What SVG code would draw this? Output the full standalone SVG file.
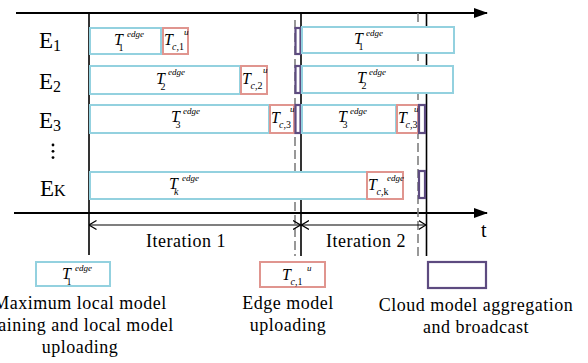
<svg xmlns="http://www.w3.org/2000/svg" width="588" height="363" viewBox="0 0 588 363">
<style>
.ax{stroke:#000;stroke-width:2;fill:none}
.vl{stroke:#000;stroke-width:1.6;fill:none}
.dl{stroke:#7f7f7f;stroke-width:1.6;stroke-dasharray:9 4;fill:none}
.cy{fill:#fff;stroke:#93d1df;stroke-width:2}
.rd{fill:#fff;stroke:#e0958f;stroke-width:2}
.pu{fill:#fff;stroke:#5d4b80;stroke-width:2.2}
.ia{stroke:#000;stroke-width:1.2;fill:none}
text{font-family:"Liberation Serif","Times New Roman",serif;fill:#000}
.lb{font-size:23px}
.lbs{font-size:16px}
.ti{font-style:italic;font-size:16px}
.sp{font-style:italic;font-size:9px}
.sb{font-style:normal;font-size:10px}
.sbi{font-style:italic;font-size:10px}
.tx{font-size:18px;letter-spacing:0.5px}
</style>
<defs>
<marker id="fa" markerWidth="14" markerHeight="10" refX="13" refY="5" orient="auto" markerUnits="userSpaceOnUse"><path d="M0,0 L14,5 L0,10 Z" fill="#000"/></marker>
<marker id="oa" markerWidth="8" markerHeight="10" refX="7.5" refY="5" orient="auto-start-reverse" markerUnits="userSpaceOnUse"><path d="M0,0.5 L7.5,5 L0,9.5" fill="none" stroke="#000" stroke-width="1.2"/></marker>
</defs>
<rect width="588" height="363" fill="#fff"/>

<g id="connectors">
<line class="ax" x1="16" y1="13" x2="487" y2="13" marker-end="url(#fa)"/>
<line class="ax" x1="14" y1="213" x2="487" y2="213" marker-end="url(#fa)"/>
<line class="vl" x1="89" y1="13" x2="89" y2="255"/>
<line class="vl" x1="301" y1="13" x2="301" y2="256"/>
<line class="vl" x1="426.5" y1="13" x2="426.5" y2="256"/>
<line class="dl" x1="295" y1="20" x2="295" y2="256"/>
<line class="dl" x1="418" y1="13" x2="418" y2="256"/>
<line class="ia" x1="89" y1="225" x2="300.5" y2="225" marker-start="url(#oa)" marker-end="url(#oa)"/>
<line class="ia" x1="301.5" y1="225" x2="426" y2="225" marker-start="url(#oa)" marker-end="url(#oa)"/>
</g>

<g id="labels">
<text class="lb" x="39" y="48">E<tspan class="lbs" dy="3">1</tspan></text>
<text class="lb" x="39" y="89">E<tspan class="lbs" dy="3">2</tspan></text>
<text class="lb" x="39" y="128">E<tspan class="lbs" dy="3">3</tspan></text>
<g id="vdots" fill="#000"><circle cx="53" cy="145" r="1.4"/><circle cx="53" cy="151.3" r="1.4"/><circle cx="53" cy="157.6" r="1.4"/></g>
<text class="lb" x="40" y="196">E<tspan class="lbs">K</tspan></text>
<text class="tx" x="186" y="247" text-anchor="middle">Iteration 1</text>
<text class="tx" x="366" y="247" text-anchor="middle">Iteration 2</text>
<text class="tx" x="481" y="237" style="font-size:20px">t</text>
</g>

<g id="row1">
<rect class="cy" x="90" y="28" width="71" height="26"/>
<text class="ti" x="114" y="45">T<tspan class="sp" x="127" y="37">edge</tspan><tspan class="sb" x="118.5" y="51">1</tspan></text>
<rect class="rd" x="163" y="28" width="25" height="26"/>
<text class="ti" x="164" y="45">T<tspan class="sbi" x="172" y="50">c</tspan><tspan class="sb">,1</tspan><tspan class="sp" x="184" y="35">u</tspan></text>
<rect class="pu" x="295.5" y="28" width="5" height="26"/>
<rect class="cy" x="302" y="27" width="152" height="26"/>
<text class="ti" x="354" y="44">T<tspan class="sp" x="366" y="36">edge</tspan><tspan class="sb" x="358.5" y="50">1</tspan></text>
</g>

<g id="row2">
<rect class="cy" x="90" y="66" width="150" height="28"/>
<text class="ti" x="156" y="84">T<tspan class="sp" x="168" y="75">edge</tspan><tspan class="sb" x="160.5" y="90">2</tspan></text>
<rect class="rd" x="241" y="66" width="26" height="28"/>
<text class="ti" x="242" y="84">T<tspan class="sbi" x="250.5" y="89">c</tspan><tspan class="sb">,2</tspan><tspan class="sp" x="263" y="73">u</tspan></text>
<rect class="pu" x="295.5" y="66" width="5" height="27"/>
<rect class="cy" x="302" y="66" width="151" height="27"/>
<text class="ti" x="357" y="83">T<tspan class="sp" x="369" y="75">edge</tspan><tspan class="sb" x="361.5" y="89">2</tspan></text>
</g>

<g id="row3">
<rect class="cy" x="90" y="105" width="179" height="28"/>
<text class="ti" x="171" y="122">T<tspan class="sp" x="183" y="114">edge</tspan><tspan class="sb" x="175.5" y="128">3</tspan></text>
<rect class="rd" x="270" y="105" width="24" height="28"/>
<text class="ti" x="271" y="123">T<tspan class="sbi" x="279" y="128">c</tspan><tspan class="sb">,3</tspan><tspan class="sp" x="290" y="112">u</tspan></text>
<rect class="pu" x="295.5" y="105" width="5" height="28"/>
<rect class="cy" x="302" y="105" width="94" height="28"/>
<text class="ti" x="338" y="122">T<tspan class="sp" x="350" y="114">edge</tspan><tspan class="sb" x="342.5" y="128">3</tspan></text>
<rect class="rd" x="397" y="105" width="21" height="28"/>
<text class="ti" x="398" y="123">T<tspan class="sbi" x="405.5" y="128">c</tspan><tspan class="sb">,3</tspan><tspan class="sp" x="414" y="112">u</tspan></text>
<rect class="pu" x="419" y="105" width="6" height="28"/>
</g>

<g id="rowK">
<rect class="cy" x="90" y="172" width="277" height="27"/>
<text class="ti" x="169" y="189">T<tspan class="sp" x="182" y="181">edge</tspan><tspan class="sbi" x="174" y="195">k</tspan></text>
<rect class="rd" x="367" y="172" width="36" height="27"/>
<text class="ti" x="368" y="190">T<tspan class="sbi" x="376.5" y="195">c</tspan><tspan class="sb">,k</tspan><tspan class="sp" x="387" y="181">edge</tspan></text>
<rect class="pu" x="419" y="171" width="6" height="27"/>
</g>

<g id="legend-edge">
<rect class="cy" x="36" y="262" width="74" height="24"/>
<text class="ti" x="62" y="279">T<tspan class="sp" x="75" y="271">edge</tspan><tspan class="sb" x="66.5" y="285">1</tspan></text>
<text class="tx" x="80" y="309" text-anchor="middle">Maximum local model</text>
<text class="tx" x="80" y="331" text-anchor="middle">training and local model</text>
<text class="tx" x="80" y="353" text-anchor="middle">uploading</text>
</g>

<g id="legend-upload">
<rect class="rd" x="260" y="262" width="65" height="25"/>
<text class="ti" x="282" y="280">T<tspan class="sbi" x="290.5" y="285">c</tspan><tspan class="sb">,1</tspan><tspan class="sp" x="307" y="271">u</tspan></text>
<text class="tx" x="288" y="309" text-anchor="middle">Edge model</text>
<text class="tx" x="288" y="331" text-anchor="middle">uploading</text>
</g>

<g id="legend-cloud">
<rect class="pu" x="428" y="262" width="58" height="26"/>
<text class="tx" x="476" y="311" text-anchor="middle">Cloud model aggregation</text>
<text class="tx" x="476" y="333" text-anchor="middle">and broadcast</text>
</g>
</svg>
